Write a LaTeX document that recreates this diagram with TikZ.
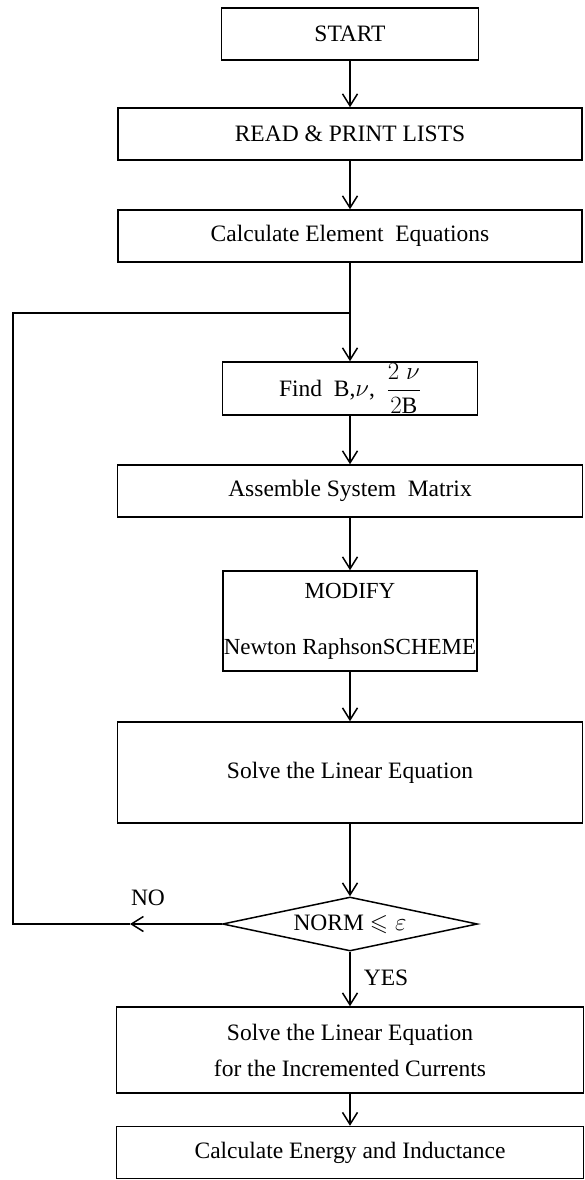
\documentclass[tikz,border=0pt]{standalone}
\usepackage{amsmath,amssymb}
\usepackage{fontspec}
\setmainfont{Liberation Serif}
\usetikzlibrary{shapes.geometric,arrows.meta}
\begin{document}
\begin{tikzpicture}[x=1pt,y=-1pt,
  box/.style={draw,line width=1.5pt,inner sep=0pt,align=center,font=\fontsize{23.5}{27}\selectfont},
  arr/.style={line width=1.5pt,-{Straight Barb[length=12pt,width=15pt,line width=1.5pt]}},
  ln/.style={line width=1.5pt},
  lab/.style={font=\fontsize{23.5}{27}\selectfont,inner sep=0pt}]
\useasboundingbox (0,0) rectangle (584,1180);
\node[box,minimum width=257pt,minimum height=52pt] (start) at (350,34) {START};
\node[box,minimum width=464pt,minimum height=52pt] (read) at (350,134) {READ \& PRINT LISTS};
\node[box,minimum width=464pt,minimum height=52pt] (calc) at (350,236) {Calculate Element\ \ Equations};
\node[box,minimum width=255pt,minimum height=53pt] (find) at (350,388.5) {Find\ \ B,$\nu$,\ \ $\dfrac{2\;\nu}{2\mathrm{B}}$};
\node[box,minimum width=465pt,minimum height=52pt] (asm) at (350,491) {Assemble System\ \ Matrix};
\node[box,minimum width=254pt,minimum height=100pt,font=\fontsize{23}{56}\selectfont] (mod) at (350,621) {MODIFY\\[0pt]Newton RaphsonSCHEME};
\node[box,minimum width=465pt,minimum height=101pt] (solve) at (350,772.5) {Solve the Linear Equation};
\node[draw,line width=1.5pt,diamond,shape aspect=4.72,minimum width=255pt,minimum height=54pt,inner sep=0pt,font=\fontsize{23.5}{27}\selectfont] (dec) at (350,924) {NORM $\leqslant \varepsilon$};
\node[box,minimum width=467pt,minimum height=86pt,font=\fontsize{23.5}{36}\selectfont] (solve2) at (350,1050) {Solve the Linear Equation\\for the Incremented Currents};
\node[box,minimum width=467pt,minimum height=52pt] (energy) at (350,1152.5) {Calculate Energy and Inductance};
\node[lab] (no) at (148,898) {NO};
\node[lab] (yes) at (386,978) {YES};
\coordinate (join) at (350,313);
\coordinate (noarr) at (130,924);
\coordinate (c1) at (13,924);
\coordinate (c2) at (13,313);
\draw[arr] (start) -- (read);
\draw[arr] (read) -- (calc);
\draw[ln] (calc.south) -- (join);
\draw[arr] (join) -- (find.north);
\draw[arr] (find) -- (asm);
\draw[arr] (asm) -- (mod);
\draw[arr] (mod) -- (solve);
\draw[arr] (solve.south) -- (dec.north);
\draw[arr] (dec.south) -- (solve2.north);
\draw[arr] (solve2) -- (energy);
\draw[arr] (dec.west) -- (noarr);
\draw[ln] (noarr) -- (c1) -- (c2) -- (join);
\end{tikzpicture}
\end{document}
